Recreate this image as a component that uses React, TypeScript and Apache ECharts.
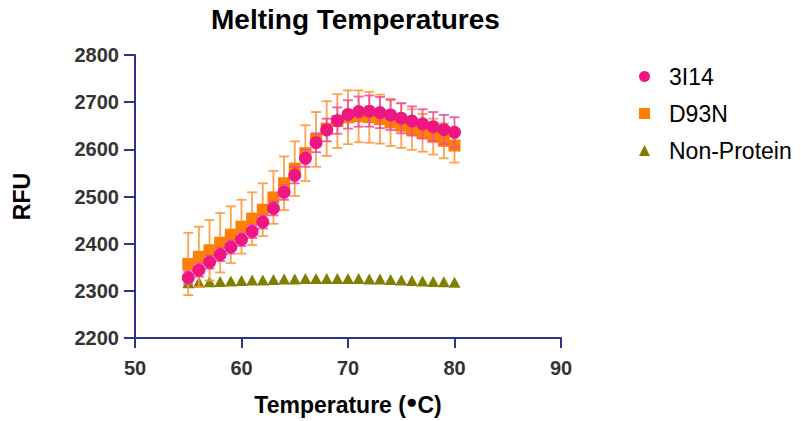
import React, { useEffect, useRef } from "react";
import * as echarts from "echarts";

const temps = [55, 56, 57, 58, 59, 60, 61, 62, 63, 64, 65, 66, 67, 68, 69, 70, 71, 72, 73, 74, 75, 76, 77, 78, 79, 80];
const i14Mean = [2328, 2344, 2361, 2377, 2393, 2409, 2426, 2446, 2475, 2509, 2545, 2581, 2614, 2641, 2661, 2674, 2680, 2681, 2678, 2673, 2666, 2660, 2654, 2648, 2642, 2636];
const i14Err = [14, 14, 14, 14, 14, 14, 14, 14, 15, 16, 17, 18, 20, 24, 28, 30, 32, 33, 33, 32, 32, 31, 31, 31, 31, 32];
const d93nMean = [2357, 2372, 2386, 2402, 2419, 2436, 2453, 2472, 2498, 2528, 2559, 2592, 2621, 2644, 2660, 2668, 2670, 2668, 2664, 2657, 2650, 2642, 2635, 2627, 2618, 2608];
const d93nErr = [66, 64, 64, 63, 60, 57, 56, 56, 56, 57, 58, 59, 58, 58, 57, 57, 55, 54, 52, 50, 47, 43, 40, 38, 37, 36];
const nonProtein = [2317, 2318, 2319, 2320, 2321, 2322, 2323, 2323, 2324, 2325, 2325, 2326, 2326, 2326, 2326, 2326, 2326, 2325, 2325, 2324, 2323, 2322, 2321, 2320, 2319, 2318];
const yTicks = [2200, 2300, 2400, 2500, 2600, 2700, 2800];
const xTicks = [50, 60, 70, 80, 90];

const PINK = "#ee1680";
const ORANGE = "#ff8000";
const OLIVE = "#808000";
const AXIS = "#2f358f";
const FONT = "'Liberation Sans', Arial, Helvetica, sans-serif";

function errSeries(name: string, means: number[], errs: number[], color: string, z: number) {
  return {
    type: "custom",
    name,
    z,
    silent: true,
    data: temps.map((t, i) => [t, means[i] - errs[i], means[i] + errs[i]]),
    encode: { x: 0, y: [1, 2] },
    renderItem: (params: any, api: any) => {
      const x = api.value(0);
      const lo = api.coord([x, api.value(1)]);
      const hi = api.coord([x, api.value(2)]);
      const hw = 5;
      const style = { stroke: color, lineWidth: 1.8, opacity: 0.9 };
      return {
        type: "group",
        children: [
          { type: "line", shape: { x1: lo[0], y1: lo[1], x2: hi[0], y2: hi[1] }, style },
          { type: "line", shape: { x1: lo[0] - hw, y1: lo[1], x2: lo[0] + hw, y2: lo[1] }, style },
          { type: "line", shape: { x1: hi[0] - hw, y1: hi[1], x2: hi[0] + hw, y2: hi[1] }, style },
        ],
      };
    },
  };
}

export default function App() {
  const ref = useRef<HTMLDivElement>(null);
  useEffect(() => {
    document.body.style.margin = "0";
    const chart = echarts.init(ref.current!, undefined, { renderer: "svg" });
    chart.setOption({
      animation: false,
      backgroundColor: "#ffffff",
      textStyle: { fontFamily: FONT },
      title: {
        text: "Melting Temperatures",
        left: 206,
        top: 0,
        textStyle: { fontSize: 28, fontWeight: "bold", color: "#000", fontFamily: FONT },
      },
      legend: {
        orient: "vertical",
        left: 634,
        top: 60,
        itemGap: 14,
        itemWidth: 11,
        itemHeight: 11,
        data: [
          { name: "3I14", icon: "circle" },
          { name: "D93N", icon: "rect" },
          { name: "Non-Protein", icon: "triangle" },
        ],
        textStyle: { fontSize: 23, color: "#000", fontFamily: FONT, padding: [0, 0, 0, 14] },
      },
      grid: { left: 135, top: 55, width: 426, height: 284, containLabel: false },
      xAxis: {
        type: "value",
        min: xTicks[0],
        max: xTicks[xTicks.length - 1],
        interval: 10,
        name: "Temperature ({d|●}C)",
        nameLocation: "middle",
        nameGap: 54,
        nameTextStyle: {
          fontSize: 23,
          fontWeight: "bold",
          color: "#000",
          fontFamily: FONT,
          rich: { d: { fontSize: 19, fontWeight: "bold", color: "#000", fontFamily: FONT, verticalAlign: "top", padding: [0, 0, 6, 0] } },
        },
        axisLine: { lineStyle: { color: AXIS, width: 2 } },
        axisTick: { length: 10, lineStyle: { color: AXIS, width: 2 } },
        axisLabel: { fontSize: 20, fontWeight: "bold", color: "#333", margin: 20, fontFamily: FONT, formatter: (v: number) => String(v) },
        splitLine: { show: false },
      },
      yAxis: {
        type: "value",
        min: yTicks[0],
        max: yTicks[yTicks.length - 1],
        interval: 100,
        name: "RFU",
        nameLocation: "middle",
        nameGap: 102,
        nameTextStyle: { fontSize: 23, fontWeight: "bold", color: "#000", fontFamily: FONT },
        axisLine: { show: true, lineStyle: { color: AXIS, width: 2 } },
        axisTick: { show: true, length: 11, lineStyle: { color: AXIS, width: 2 } },
        axisLabel: { fontSize: 20, fontWeight: "bold", color: "#333", margin: 16, fontFamily: FONT, formatter: (v: number) => String(v) },
        splitLine: { show: false },
      },
      series: [
        {
          type: "scatter",
          name: "3I14",
          z: 6,
          symbol: "circle",
          symbolSize: 13,
          itemStyle: { color: PINK, opacity: 1 },
          data: temps.map((t, i) => [t, i14Mean[i]]),
        },
        errSeries("3I14 err", i14Mean, i14Err, "#f04c9c", 5),
        {
          type: "scatter",
          name: "D93N",
          z: 4,
          symbol: "rect",
          symbolSize: 12,
          itemStyle: { color: ORANGE, opacity: 1 },
          data: temps.map((t, i) => [t, d93nMean[i]]),
        },
        errSeries("D93N err", d93nMean, d93nErr, "#ff9838", 4),
        {
          type: "scatter",
          name: "Non-Protein",
          z: 2,
          symbol: "triangle",
          symbolSize: [12, 11],
          itemStyle: { color: OLIVE, opacity: 1 },
          data: temps.map((t, i) => [t, nonProtein[i]]),
        },
      ],
    });
    return () => chart.dispose();
  }, []);
  return <div ref={ref} style={{ width: 801, height: 421 }} />;
}
